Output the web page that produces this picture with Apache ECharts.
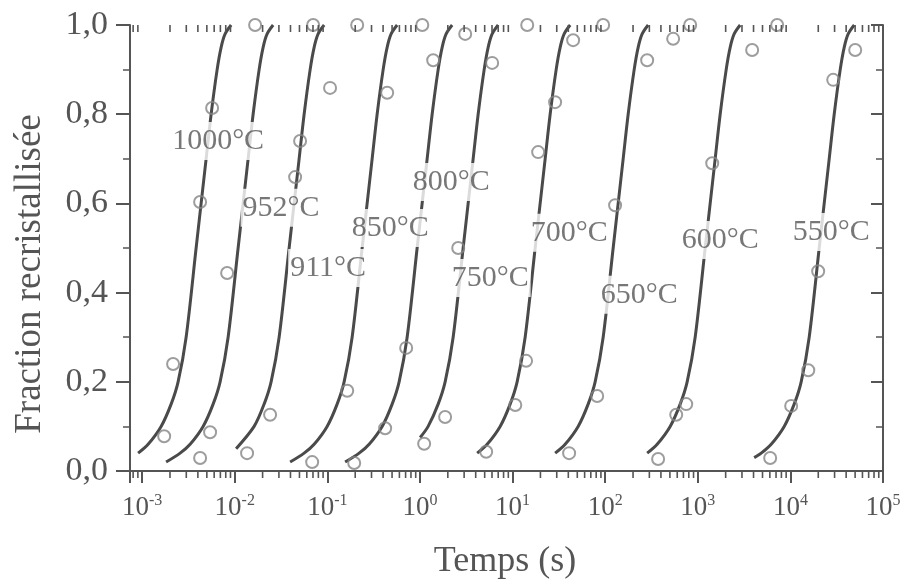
<!DOCTYPE html>
<html>
<head>
<meta charset="utf-8">
<script src="https://cdn.jsdelivr.net/npm/echarts@6/dist/echarts.min.js"></script>
<style>html,body{margin:0;padding:0;background:#fff}#c{width:905px;height:585px}</style>
</head>
<body>
<div id="c"></div>
<script>
// ---- data (time in s, recrystallised fraction) ----
const temperatures = ['1000°C','952°C','911°C','850°C','800°C','750°C','700°C','650°C','600°C','550°C'];

const fit1000 = [[0.0009054,0.04],[0.001161,0.06],[0.001604,0.1],[0.002057,0.15],[0.002447,0.2],[0.002987,0.3],[0.003830,0.5],[0.004911,0.7],[0.005562,0.8],[0.006458,0.9],[0.007132,0.95],[0.007877,0.98],[0.009145,1.0]];
const fit952  = [[0.001816,0.02],[0.002573,0.04],[0.003298,0.06],[0.004557,0.1],[0.005844,0.15],[0.006954,0.2],[0.008486,0.3],[0.010882,0.5],[0.013954,0.7],[0.015802,0.8],[0.018348,0.9],[0.020263,0.95],[0.022381,0.98],[0.025984,1.0]];
const fit911  = [[0.010355,0.05],[0.016199,0.1],[0.020771,0.15],[0.024717,0.2],[0.030163,0.3],[0.03868,0.5],[0.049599,0.7],[0.056167,0.8],[0.065218,0.9],[0.072026,0.95],[0.079553,0.98],[0.092360,1.0]];
const fit850  = [[0.03966,0.02],[0.05617,0.04],[0.07202,0.06],[0.09951,0.1],[0.12759,0.15],[0.15183,0.2],[0.18528,0.3],[0.2376,0.5],[0.30467,0.7],[0.34502,0.8],[0.40062,0.9],[0.44243,0.95],[0.48867,0.98],[0.56734,1.0]];
const fit800  = [[0.15568,0.02],[0.22051,0.04],[0.28273,0.06],[0.39066,0.1],[0.50091,0.15],[0.59606,0.2],[0.72740,0.3],[0.9328,0.5],[1.19613,0.7],[1.35452,0.8],[1.57279,0.9],[1.73697,0.95],[1.91849,0.98],[2.22734,1.0]];
const fit750  = [[1.00489,0.075],[1.22625,0.1],[1.57234,0.15],[1.87099,0.2],[2.28325,0.3],[2.928,0.5],[3.75457,0.7],[4.25175,0.8],[4.93690,0.9],[5.45223,0.95],[6.02202,0.98],[6.99148,1.0]];
const fit700  = [[4.1465,0.04],[5.3164,0.06],[7.3458,0.1],[9.4190,0.15],[11.208,0.2],[13.678,0.3],[17.54,0.5],[22.492,0.7],[25.470,0.8],[29.574,0.9],[32.661,0.95],[36.075,0.98],[41.882,1.0]];
const fit650  = [[28.84,0.04],[36.98,0.06],[51.09,0.1],[65.51,0.15],[77.96,0.2],[95.14,0.3],[122.0,0.5],[156.44,0.7],[177.16,0.8],[205.70,0.9],[227.18,0.95],[250.92,0.98],[291.31,1.0]];
const fit600  = [[284.2,0.04],[364.3,0.06],[503.4,0.1],[645.5,0.15],[768.1,0.2],[937.3,0.3],[1202,0.5],[1541.3,0.7],[1745.4,0.8],[2026.7,0.9],[2238.2,0.95],[2472.2,0.98],[2870.1,1.0]];
const fit550  = [[4065,0.03],[4839,0.04],[6204,0.06],[8573,0.1],[10992,0.15],[13080,0.2],[15962,0.3],[20470,0.5],[26249,0.7],[29725,0.8],[34514,0.9],[38117,0.95],[42101,0.98],[48878,1.0]];

const exp1000 = [[0.00173,0.078],[0.00216,0.24],[0.00423,0.603],[0.0057,0.814],[0.0166,1.0]];
const exp952  = [[0.00423,0.029],[0.00542,0.087],[0.00828,0.444],[0.0703,1.0]];
const exp911  = [[0.0136,0.040],[0.0241,0.126],[0.0449,0.659],[0.0508,0.74],[0.107,0.859],[0.210,1.0]];
const exp850  = [[0.0686,0.02],[0.164,0.18],[0.443,0.848],[1.06,1.0]];
const exp800  = [[0.195,0.018],[0.421,0.096],[0.710,0.276],[1.39,0.921],[3.08,0.98]];
const exp750  = [[1.11,0.061],[1.87,0.121],[2.59,0.50],[6.02,0.915],[14.4,1.0]];
const exp700  = [[5.19,0.043],[10.7,0.148],[14.0,0.247],[18.9,0.715],[28.8,0.827],[45.1,0.966],[95.1,1.0]];
const exp650  = [[40.8,0.040],[82.0,0.168],[128,0.596],[284,0.921],[542,0.969],[828,1.0]];
const exp600  = [[373,0.027],[585,0.126],[750,0.15],[1432,0.69],[3865,0.944],[7200,1.0]];
const exp550  = [[6050,0.029],[10200,0.146],[15600,0.226],[19950,0.448],[29000,0.877],[50100,0.944]];

const labelTimes = [0.00662,0.0317,0.102,0.477,2.173,5.73,40.9,233,1745,27580];
const labelFracs = [0.740,0.590,0.455,0.545,0.648,0.433,0.534,0.395,0.518,0.536];

const yTickLabels = ['0,0','0,2','0,4','0,6','0,8','1,0'];
const minorMantissas = [2,3,4,5,6,7,8,9];
const minorDecades = [-3,-2,-1,0,1,2,3,4];
const edgeMinorTicks = [0.0008,0.0009];

const xMin = 0.00074, xMax = 100000;
// ---- end data ----

const fitCurves = [fit1000,fit952,fit911,fit850,fit800,fit750,fit700,fit650,fit600,fit550];
const expPoints = [exp1000,exp952,exp911,exp850,exp800,exp750,exp700,exp650,exp600,exp550];
const minorValues = edgeMinorTicks.slice();
minorDecades.forEach(d => minorMantissas.forEach(m => minorValues.push(m * Math.pow(10, d))));

const FONT = 'Liberation Serif';
const INK = '#555';
const series = [];
temperatures.forEach((name, i) => {
  series.push({
    type: 'line', name: name + ' modèle', data: fitCurves[i],
    smooth: 0.3, symbol: 'none', showSymbol: false,
    lineStyle: { color: '#4a4a4a', width: 3 }, z: 2, silent: true
  });
  series.push({
    type: 'scatter', name: name, data: expPoints[i], symbol: 'circle', symbolSize: 12,
    itemStyle: { color: 'rgba(0,0,0,0)', borderColor: '#858585', borderWidth: 2 }, z: 5
  });
});
series.push({
  type: 'scatter', name: 'labels', symbolSize: 1, z: 4, silent: true,
  itemStyle: { color: 'rgba(0,0,0,0)' },
  data: temperatures.map((n, i) => ({ name: n, value: [labelTimes[i], labelFracs[i]] })),
  label: { show: true, position: 'inside', formatter: '{b}', fontFamily: FONT, fontSize: 30,
           color: INK, backgroundColor: '#fff', padding: [5, 2, 3, 2] }
});

const titles = [
  { type: 'text', x: 30, y: 274, rotation: Math.PI / 2, silent: true,
    style: { text: 'Fraction recristallisée', font: '37px "Liberation Serif"', fill: INK, align: 'center', verticalAlign: 'middle' } },
  { type: 'text', x: 505, y: 562, silent: true,
    style: { text: 'Temps (s)', font: '36px "Liberation Serif"', fill: INK, align: 'center', verticalAlign: 'middle' } }
];

const chart = echarts.init(document.getElementById('c'));
chart.setOption({
  animation: false,
  backgroundColor: '#fff',
  grid: { left: 130, right: 22, top: 25, bottom: 114, outerBoundsMode: 'none', containLabel: false },
  xAxis: [{
    type: 'log', logBase: 10, min: xMin, max: xMax, position: 'bottom', splitNumber: 10,
    axisLine: { show: true, lineStyle: { color: INK, width: 2 } },
    axisTick: { show: true, inside: false, length: 12, lineStyle: { color: INK, width: 2 } },
    axisLabel: {
      margin: 22,
      formatter: function (v) {
        const e = Math.log10(v), r = Math.round(e);
        if (Math.abs(e - r) > 1e-6) return '';
        return '{b|10}{s|' + r + '}';
      },
      rich: {
        b: { fontFamily: FONT, fontSize: 27, color: INK, lineHeight: 30 },
        s: { fontFamily: FONT, fontSize: 16, color: INK, verticalAlign: 'top', lineHeight: 18 }
      }
    },
    splitLine: { show: false }
  }, {
    type: 'log', logBase: 10, min: xMin, max: xMax, position: 'top', splitNumber: 10,
    axisLine: { show: true, lineStyle: { color: INK, width: 2 } },
    axisTick: { show: true, inside: true, length: 10, lineStyle: { color: INK, width: 2 } },
    axisLabel: { show: false }, splitLine: { show: false }
  }],
  yAxis: [{
    type: 'value', min: 0, max: 1, interval: 0.2, position: 'left',
    axisLine: { show: true, lineStyle: { color: INK, width: 2 } },
    axisTick: { show: true, inside: false, length: 14, lineStyle: { color: INK, width: 2 } },
    minorTick: { show: true, splitNumber: 2, length: 7, lineStyle: { color: INK, width: 1.5 } },
    axisLabel: { margin: 22, fontFamily: FONT, fontSize: 34, color: INK,
      formatter: function (v) { return yTickLabels[Math.round(v * 5)]; } },
    splitLine: { show: false }
  }, {
    type: 'value', min: 0, max: 1, interval: 0.2, position: 'right',
    axisLine: { show: true, lineStyle: { color: INK, width: 2 } },
    axisTick: { show: true, inside: true, length: 12, lineStyle: { color: INK, width: 2 } },
    minorTick: { show: true, splitNumber: 2, length: 7, lineStyle: { color: INK, width: 1.5 } },
    axisLabel: { show: false }, splitLine: { show: false }
  }],
  graphic: titles,
  series: series
});

// minor log ticks positioned through the axis scale (bottom outward, top inward)
const yBottom = chart.convertToPixel({ yAxisIndex: 0 }, 0);
const yTop = chart.convertToPixel({ yAxisIndex: 0 }, 1);
const tickEls = [];
minorValues.forEach(v => {
  const px = chart.convertToPixel({ xAxisIndex: 0 }, v);
  if (!isFinite(px)) return;
  tickEls.push({ type: 'line', silent: true, z: 50,
    shape: { x1: px, y1: yBottom, x2: px, y2: yBottom + 7 }, style: { stroke: INK, lineWidth: 1.6 } });
  tickEls.push({ type: 'line', silent: true, z: 50,
    shape: { x1: px, y1: yTop, x2: px, y2: yTop + 7 }, style: { stroke: INK, lineWidth: 1.6 } });
});
chart.setOption({ graphic: titles.concat(tickEls) });
</script>
</body>
</html>
